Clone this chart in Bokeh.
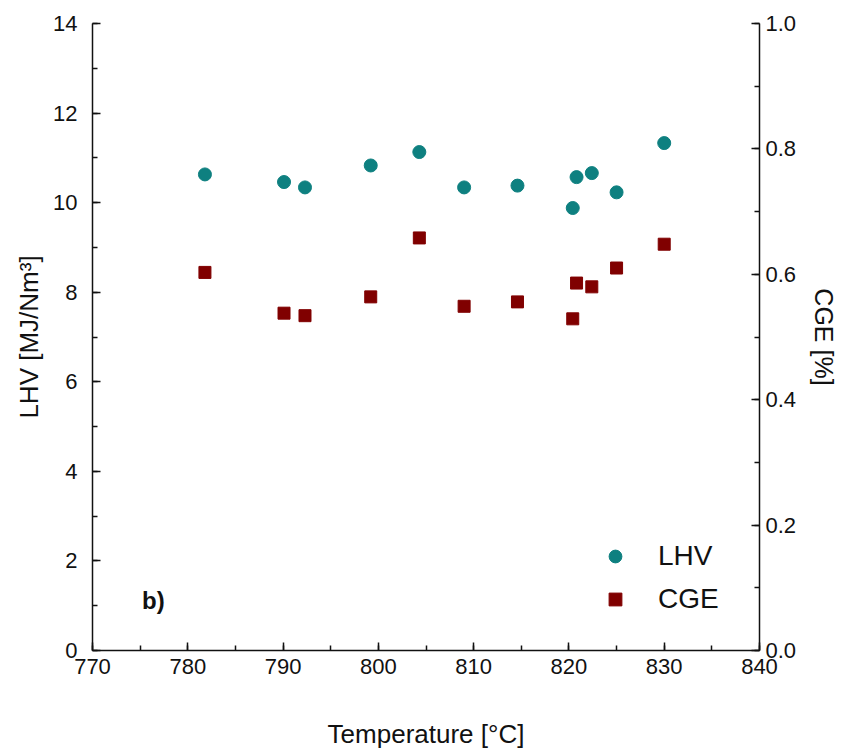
from bokeh.plotting import figure
from bokeh.models import (Range1d, LinearAxis, SingleIntervalTicker, NumeralTickFormatter,
                          Legend, LegendItem, Label)
from bokeh.embed import file_html
from bokeh.resources import INLINE

# ---- data ----
temperature = [781.8, 790.1, 792.3, 799.2, 804.3, 809.0, 814.6, 820.4, 820.8, 822.4, 825.0, 830.0]
lhv = [10.63, 10.46, 10.34, 10.83, 11.13, 10.34, 10.38, 9.88, 10.57, 10.66, 10.23, 11.33]
cge = [0.603, 0.538, 0.534, 0.564, 0.658, 0.549, 0.556, 0.529, 0.586, 0.580, 0.610, 0.648]

x_title = "Temperature [°C]"
y_title = "LHV [MJ/Nm³]"
y2_title = "CGE [%]"
panel_label = "b)"

FONT = "Liberation Sans"
TEAL = "#0e8080"
DARKRED = "#800000"

p = figure(width=841, height=753, output_backend="svg", toolbar_location=None,
           x_range=Range1d(770, 840), y_range=Range1d(0, 14),
           min_border_left=92, min_border_top=23, min_border_right=81, min_border_bottom=103)
p.outline_line_color = None
p.xgrid.visible = False
p.ygrid.visible = False
p.background_fill_color = "white"

p.extra_y_ranges = {"cge": Range1d(0, 1)}

r1 = p.scatter(temperature, lhv, marker="circle", size=13, fill_color=TEAL, line_color=TEAL)
r2 = p.scatter(temperature, cge, marker="square", size=12, fill_color=DARKRED, line_color=DARKRED,
               y_range_name="cge")

def style_axis(ax, interval, title, title_standoff, label_standoff):
    ax.ticker = SingleIntervalTicker(interval=interval, num_minor_ticks=2)
    ax.axis_label = title
    ax.axis_label_text_font = FONT
    ax.axis_label_text_font_size = "26px"
    ax.axis_label_text_font_style = "normal"
    ax.axis_label_text_color = "#111111"
    ax.axis_label_standoff = title_standoff
    ax.major_label_text_font = FONT
    ax.major_label_text_font_size = "22px"
    ax.major_label_text_color = "#111111"
    ax.major_label_standoff = label_standoff
    ax.major_tick_in = 8
    ax.major_tick_out = 0
    ax.minor_tick_in = 5
    ax.minor_tick_out = 0
    ax.axis_line_color = "#111111"
    ax.major_tick_line_color = "#111111"
    ax.minor_tick_line_color = "#111111"
    ax.axis_line_width = 1.5
    ax.major_tick_line_width = 1.5
    ax.minor_tick_line_width = 1.5

style_axis(p.xaxis[0], 10, x_title, 42, 8)
style_axis(p.yaxis[0], 2, y_title, 6, 15)

right = LinearAxis(y_range_name="cge")
style_axis(right, 0.2, y2_title, 11, 6)
right.formatter = NumeralTickFormatter(format="0.0")
right.axis_label_text_font_size = "25px"
p.add_layout(right, "right")

legend = Legend(items=[LegendItem(label="LHV", renderers=[r1]),
                       LegendItem(label="CGE", renderers=[r2])],
                location=(507, 31), orientation="vertical",
                label_text_font=FONT, label_text_font_size="28px", label_text_color="#111111",
                glyph_width=32, glyph_height=40, label_height=40, label_standoff=27,
                spacing=3, padding=0, margin=0,
                border_line_color=None, background_fill_alpha=0)
p.add_layout(legend)

p.add_layout(Label(x=775.2, y=1.12, text=panel_label, text_font=FONT, text_font_size="24px",
                   text_font_style="bold", text_baseline="middle", text_align="left",
                   text_color="#111111"))

open("out.html", "w").write(file_html(p, INLINE))
